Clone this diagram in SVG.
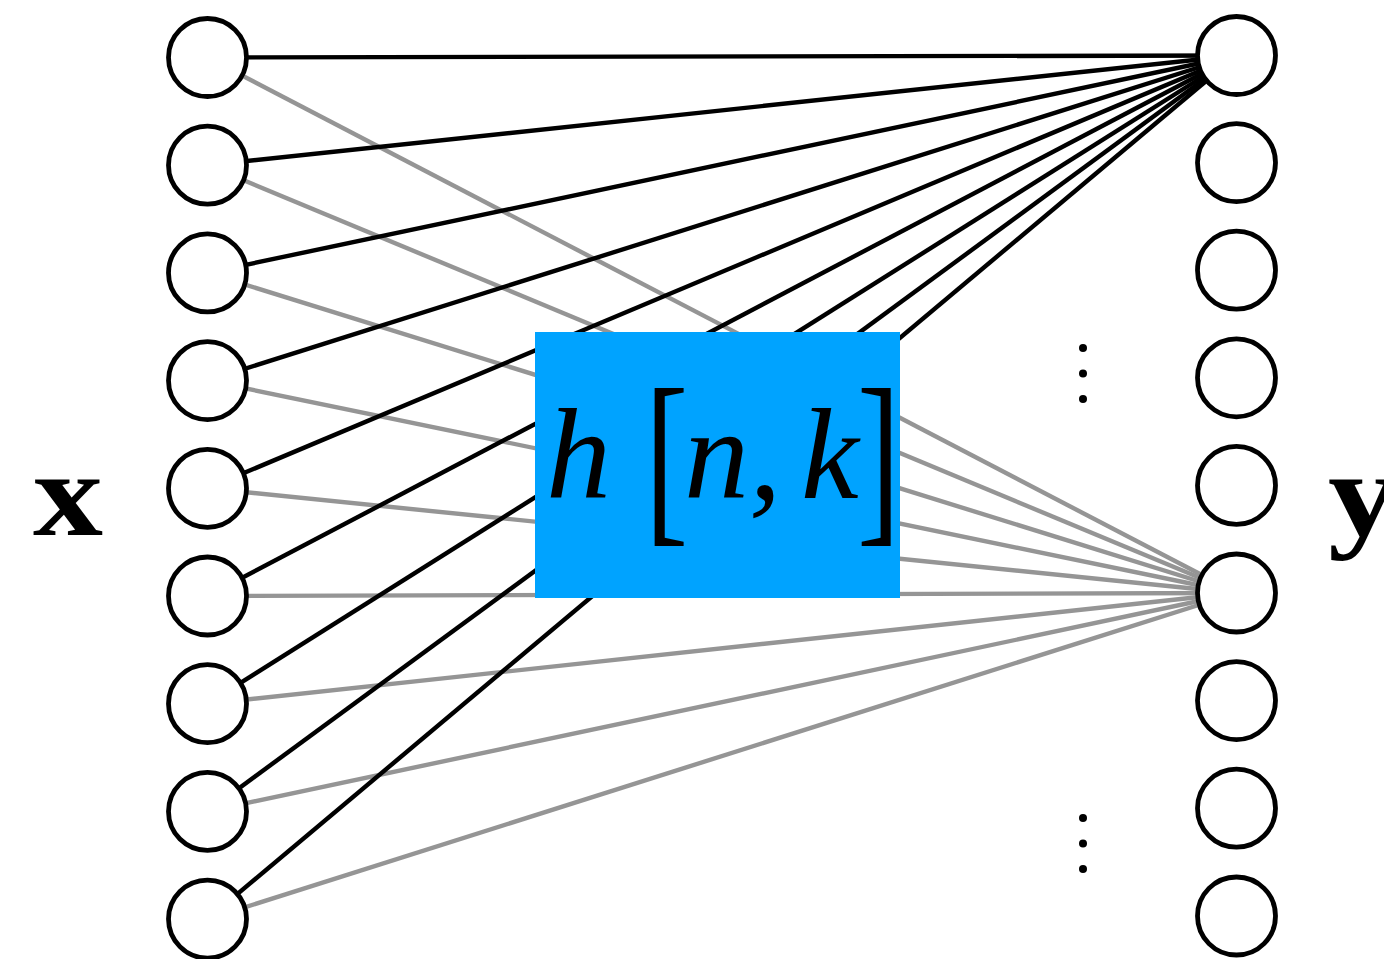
<svg xmlns="http://www.w3.org/2000/svg" width="1384" height="959" viewBox="0 0 1384 959">
<style>
.n{fill:#fff;stroke:#000;stroke-width:4.8}
.k{stroke:#000;stroke-width:4.4;fill:none}
.g{stroke:#959595;stroke-width:4.4;fill:none}
.dot{fill:#000}
.m{font-family:"Liberation Serif",serif;font-style:italic;fill:#000}
.b{font-family:"Liberation Serif",serif;fill:#000}
.v{font-family:"Liberation Serif",serif;font-weight:bold;fill:#000}
</style>
<g id="connectors">
<line class="g" x1="207.5" y1="57.5" x2="1236.5" y2="593"/>
<line class="g" x1="207.5" y1="165.2" x2="1236.5" y2="593"/>
<line class="g" x1="207.5" y1="272.9" x2="1236.5" y2="593"/>
<line class="g" x1="207.5" y1="380.6" x2="1236.5" y2="593"/>
<line class="g" x1="207.5" y1="488.3" x2="1236.5" y2="593"/>
<line class="g" x1="207.5" y1="596" x2="1236.5" y2="593"/>
<line class="g" x1="207.5" y1="703.7" x2="1236.5" y2="593"/>
<line class="g" x1="207.5" y1="811.4" x2="1236.5" y2="593"/>
<line class="g" x1="207.5" y1="919.1" x2="1236.5" y2="593"/>
<line class="k" x1="207.5" y1="57.5" x2="1236.5" y2="55.5"/>
<line class="k" x1="207.5" y1="165.2" x2="1236.5" y2="55.5"/>
<line class="k" x1="207.5" y1="272.9" x2="1236.5" y2="55.5"/>
<line class="k" x1="207.5" y1="380.6" x2="1236.5" y2="55.5"/>
<line class="k" x1="207.5" y1="488.3" x2="1236.5" y2="55.5"/>
<line class="k" x1="207.5" y1="596" x2="1236.5" y2="55.5"/>
<line class="k" x1="207.5" y1="703.7" x2="1236.5" y2="55.5"/>
<line class="k" x1="207.5" y1="811.4" x2="1236.5" y2="55.5"/>
<line class="k" x1="207.5" y1="919.1" x2="1236.5" y2="55.5"/>
</g>
<g id="h-box">
<rect x="535" y="332" width="365" height="266" fill="#00A3FF"/>
<text class="m" x="546" y="498" font-size="130">h</text>
<text class="b" transform="translate(645,520) scale(1,1.47)" font-size="130">[</text>
<text class="m" x="684" y="498" font-size="130">n,</text>
<text class="m" x="801" y="498" font-size="130">k</text>
<text class="b" transform="translate(857,520) scale(1,1.47)" font-size="130">]</text>
</g>
<g id="x-nodes">
<circle id="x1" class="n" cx="207.5" cy="57.5" r="39"/>
<circle id="x2" class="n" cx="207.5" cy="165.2" r="39"/>
<circle id="x3" class="n" cx="207.5" cy="272.9" r="39"/>
<circle id="x4" class="n" cx="207.5" cy="380.6" r="39"/>
<circle id="x5" class="n" cx="207.5" cy="488.3" r="39"/>
<circle id="x6" class="n" cx="207.5" cy="596" r="39"/>
<circle id="x7" class="n" cx="207.5" cy="703.7" r="39"/>
<circle id="x8" class="n" cx="207.5" cy="811.4" r="39"/>
<circle id="x9" class="n" cx="207.5" cy="919.1" r="39"/>
</g>
<g id="y-nodes">
<circle id="y1" class="n" cx="1236.5" cy="55.5" r="39"/>
<circle id="y2" class="n" cx="1236.5" cy="162.7" r="39"/>
<circle id="y3" class="n" cx="1236.5" cy="270.2" r="39"/>
<circle id="y4" class="n" cx="1236.5" cy="377.8" r="39"/>
<circle id="y5" class="n" cx="1236.5" cy="485.4" r="39"/>
<circle id="y6" class="n" cx="1236.5" cy="593" r="39"/>
<circle id="y7" class="n" cx="1236.5" cy="700.6" r="39"/>
<circle id="y8" class="n" cx="1236.5" cy="808.2" r="39"/>
<circle id="y9" class="n" cx="1236.5" cy="916" r="39"/>
</g>
<g id="dots-upper">
<circle class="dot" cx="1083" cy="348" r="4"/>
<circle class="dot" cx="1083" cy="373.5" r="4"/>
<circle class="dot" cx="1083" cy="399" r="4"/>
</g>
<g id="dots-lower">
<circle class="dot" cx="1083" cy="818" r="4"/>
<circle class="dot" cx="1083" cy="843.5" r="4"/>
<circle class="dot" cx="1083" cy="869" r="4"/>
</g>
<g id="label-x"><text class="v" x="33" y="535" font-size="120" textLength="70" lengthAdjust="spacingAndGlyphs">x</text></g>
<g id="label-y"><text class="v" x="1328" y="535" font-size="120" textLength="70" lengthAdjust="spacingAndGlyphs">y</text></g>
</svg>
